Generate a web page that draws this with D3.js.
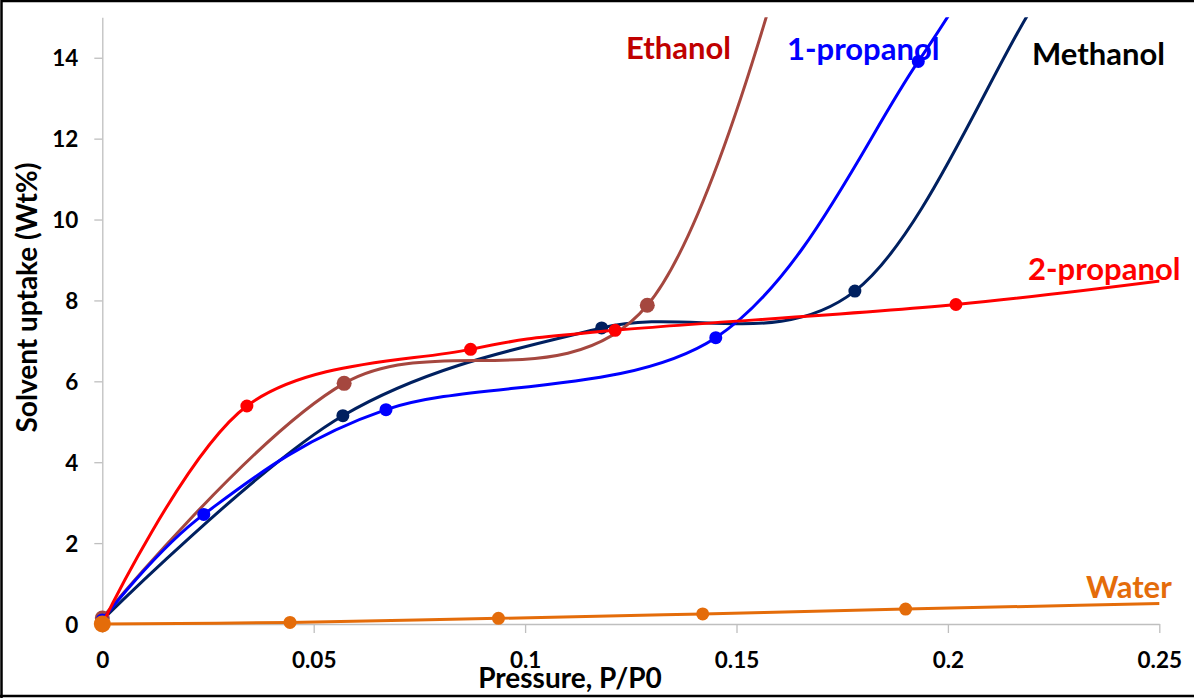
<!DOCTYPE html>
<html>
<head>
<meta charset="utf-8">
<script src="https://cdn.jsdelivr.net/npm/d3@7"></script>
<style>
  body { margin: 0; background: #fff; }
  svg { display: block; }
  text { font-family: Lato, "Open Sans", sans-serif; font-weight: bold; }
  .axis path, .axis line { stroke: #bfbfbf; stroke-width: 1.3; }
  .axis text { fill: #000; font-size: 22.5px; }
</style>
</head>
<body>
<div class="chart"></div>
<script>
var svgWidth = 1194;
var svgHeight = 698;

var margin = { top: 17.3, left: 102.3 };
var width = 1057;
var height = 606.7;

// tick labels
var xTicks = [0, 0.05, 0.1, 0.15, 0.2, 0.25];
var xTickLabels = ["0", "0.05", "0.1", "0.15", "0.2", "0.25"];
var yTicks = [0, 2, 4, 6, 8, 10, 12, 14];

// series (last points run past the plot edge and get clipped)
var methanolX = [0, 0.0569, 0.1181, 0.178, 0.225, 0.25];
var methanolY = [0.1, 5.15, 7.32, 8.23, 16, 17.2];
var ethanolX = [0, 0.0572, 0.1289, 0.17];
var ethanolY = [0.15, 5.95, 7.88, 20];
var propanol1X = [0, 0.024, 0.0671, 0.1451, 0.193, 0.22];
var propanol1Y = [0.1, 2.71, 5.30, 7.08, 13.91, 18.5];
var propanol2X = [0, 0.0342, 0.0871, 0.1213, 0.2019, 0.27];
var propanol2Y = [0, 5.39, 6.79, 7.26, 7.90, 8.75];
var waterX = [0, 0.0444, 0.0937, 0.142, 0.19, 0.28];
var waterY = [0, 0.04, 0.14, 0.25, 0.37, 0.57];

var series = [
  { name: "Methanol", xs: methanolX, ys: methanolY, color: "#002060", r: 6.5 },
  { name: "Ethanol", xs: ethanolX, ys: ethanolY, color: "#a5473f", r: 7.5 },
  { name: "1-propanol", xs: propanol1X, ys: propanol1Y, color: "#0000ff", r: 6.5 },
  { name: "2-propanol", xs: propanol2X, ys: propanol2Y, color: "#ff0000", r: 6.5 },
  { name: "Water", xs: waterX, ys: waterY, color: "#e46c0a", r: 6.5, firstR: 8.5 }
];

var labels = [
  { text: "Ethanol", color: "#c00000", x: 626, y: 59 },
  { text: "1-propanol", color: "#0000ff", x: 787, y: 60 },
  { text: "Methanol", color: "#000000", x: 1032, y: 65 },
  { text: "2-propanol", color: "#ff0000", x: 1028, y: 280 },
  { text: "Water", color: "#e46c0a", x: 1086, y: 598 }
];

var svg = d3.select(".chart")
  .append("svg")
  .attr("width", svgWidth)
  .attr("height", svgHeight);

// frame
svg.append("path")
  .attr("d", `M1.5,${svgHeight} V1 H${svgWidth} M0,696 H${svgWidth}`)
  .attr("fill", "none")
  .attr("stroke", "#000")
  .attr("stroke-width", 2.5);

var chartGroup = svg.append("g")
  .attr("transform", `translate(${margin.left}, ${margin.top})`);

var xScale = d3.scaleLinear().domain([0, 0.25]).range([0, width]);
var yScale = d3.scaleLinear().domain([0, 15]).range([height, 0]);

var xAxisG = chartGroup.append("g")
  .attr("class", "axis")
  .attr("transform", `translate(0, ${height})`)
  .call(d3.axisBottom(xScale)
    .tickValues(xTicks)
    .tickFormat((d, i) => xTickLabels[i])
    .tickSize(9)
    .tickSizeOuter(0));
xAxisG.selectAll(".tick text").attr("y", 43.5).attr("dy", "0");

var yAxisG = chartGroup.append("g")
  .attr("class", "axis")
  .call(d3.axisLeft(yScale)
    .tickValues(yTicks)
    .tickSize(8)
    .tickSizeOuter(0)
    .tickPadding(16));
yAxisG.selectAll(".tick text").attr("dy", "0.36em");

// clip for lines and markers
var defs = svg.append("defs");
defs.append("clipPath").attr("id", "lineClip")
  .append("rect").attr("x", -20).attr("y", 0).attr("width", width + 20).attr("height", height + 20);

var line = d3.line()
  .x(d => xScale(d[0]))
  .y(d => yScale(d[1]))
  .curve(d3.curveCardinal.tension(0));

var plot = chartGroup.append("g").attr("clip-path", "url(#lineClip)");

series.forEach(function(s) {
  var pts = s.xs.map((x, i) => [x, s.ys[i]]);
  plot.append("path")
    .datum(pts)
    .attr("d", line)
    .attr("fill", "none")
    .attr("stroke", s.color)
    .attr("stroke-width", 3);
  plot.selectAll(null)
    .data(pts.filter(p => p[0] <= 0.25 && p[1] <= 15))
    .enter()
    .append("circle")
    .attr("cx", d => xScale(d[0]))
    .attr("cy", d => yScale(d[1]))
    .attr("r", (d, i) => (i === 0 && s.firstR) ? s.firstR : s.r)
    .attr("fill", s.color);
});

// series labels
svg.selectAll(".serieslabel")
  .data(labels)
  .enter()
  .append("text")
  .attr("class", "serieslabel")
  .attr("x", d => d.x)
  .attr("y", d => d.y)
  .attr("fill", d => d.color)
  .style("font-size", "31px")
  .text(d => d.text);

// axis titles
svg.append("text")
  .attr("transform", "translate(37, 297.5) rotate(-90)")
  .attr("text-anchor", "middle")
  .style("font-size", "28px")
  .text("Solvent uptake (Wt%)");

svg.append("text")
  .attr("x", 570)
  .attr("y", 688)
  .attr("text-anchor", "middle")
  .style("font-size", "28px")
  .text("Pressure, P/P0");
</script>
</body>
</html>
